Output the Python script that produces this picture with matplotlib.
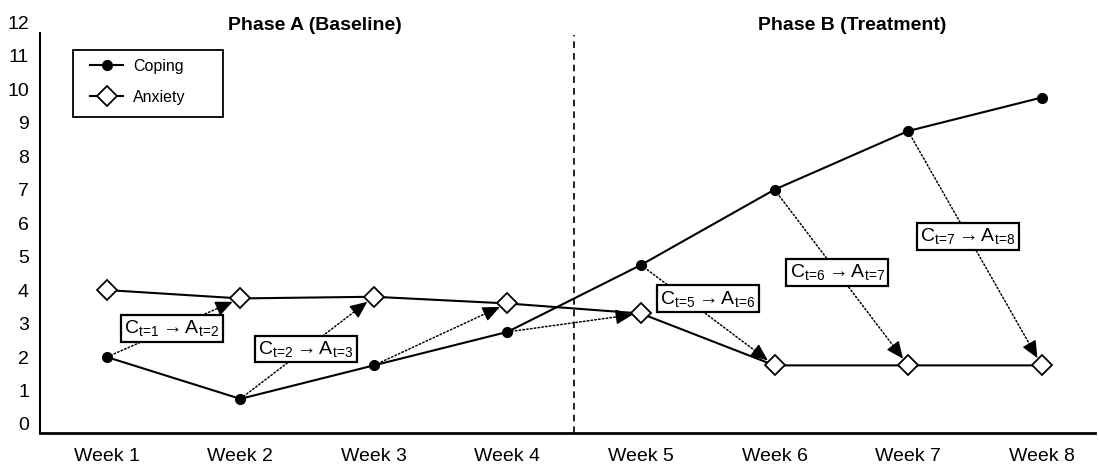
import matplotlib
matplotlib.use('Agg')
import matplotlib.pyplot as plt
from matplotlib.patches import Rectangle
import numpy as np

plt.rcParams['font.family'] = ['Liberation Sans', 'DejaVu Sans']
plt.rcParams['mathtext.fontset'] = 'custom'
plt.rcParams['mathtext.rm'] = 'Liberation Sans'
plt.rcParams['mathtext.it'] = 'Liberation Sans'
plt.rcParams['mathtext.bf'] = 'Liberation Sans:bold'

weeks = ['Week 1', 'Week 2', 'Week 3', 'Week 4', 'Week 5', 'Week 6', 'Week 7', 'Week 8']
coping = [2.0, 0.75, 1.75, 2.75, 4.75, 7.0, 8.75, 9.75]
anxiety = [4.0, 3.75, 3.8, 3.6, 3.3, 1.75, 1.75, 1.75]
# lagged paths C(t) -> A(t+1); which ones get a label and where along the arrow
labelled = [1, 2, 5, 6, 7]
label_pos = {1: 0.49, 2: 0.49, 5: 0.5, 6: 0.47, 7: 0.45}
label_shift = {1: 0, 2: 0, 5: 12, 6: 0, 7: 0}
phases = ['Phase A (Baseline)', 'Phase B (Treatment)']

x = np.arange(len(weeks))

fig = plt.figure(figsize=(10.99, 4.70), dpi=100)
ax = fig.add_axes([0.0364, 0.0787, 0.96, 0.874])
ax.set_xlim(-0.5, 7.4)
ax.set_ylim(-0.27, 12)

# arrows first so markers sit on top
for t in range(1, len(weeks)):
    x0, y0 = x[t - 1], coping[t - 1]
    x1, y1 = x[t], anxiety[t]
    # dotted shaft
    ax.annotate('', xy=(x1, y1), xytext=(x0, y0),
                arrowprops=dict(arrowstyle='-', linestyle=(0, (1, 1.5)), color='black',
                                lw=1.1, shrinkA=3, shrinkB=12), zorder=2)
    # solid head, direction taken in screen space
    p0 = ax.transData.transform((x0, y0))
    p1 = ax.transData.transform((x1, y1))
    u = (p1 - p0) / np.hypot(*(p1 - p0))
    ax.annotate('', xy=(x1, y1), xytext=(-u[0] * 18, -u[1] * 18), textcoords='offset points',
                arrowprops=dict(arrowstyle='-|>,head_length=0.5,head_width=0.22', color='black',
                                lw=1, mutation_scale=21, shrinkA=0, shrinkB=6), zorder=2)
    if t in labelled:
        f = label_pos[t]
        ax.annotate(r'$\mathrm{C}_{t\!=\!%d} \rightarrow \mathrm{A}_{t\!=\!%d}$' % (t, t + 1),
                    xy=(x0 + f * (x1 - x0), y0 + f * (y1 - y0)),
                    xytext=(0, label_shift[t]), textcoords='offset points',
                    ha='center', va='center', fontsize=14, zorder=5,
                    bbox=dict(boxstyle='square,pad=0.17', fc='white', ec='black', lw=1.6))

ax.plot(x, coping, '-o', color='black', lw=1.5, markersize=7, label='Coping', zorder=3)
ax.plot(x, anxiety, '-D', color='black', lw=1.5, markersize=10, markerfacecolor='white',
        markeredgewidth=1.3, label='Anxiety', zorder=3)

ax.axvline(3.5, ymin=0, ymax=0.97, color='black', linestyle=(0, (4, 3)), lw=1.2)

ax.text(1.555, 11.9, phases[0], ha='center', va='center', fontsize=14, fontweight='bold')
ax.text(5.58, 11.9, phases[1], ha='center', va='center', fontsize=14, fontweight='bold')

ax.set_xticks(x)
ax.set_xticklabels(weeks, fontsize=14)
ax.set_yticks(range(0, 13))
ax.tick_params(axis='both', length=0, labelsize=14)
ax.tick_params(axis='x', pad=11)
ax.tick_params(axis='y', pad=8)
for s in ['top', 'right']:
    ax.spines[s].set_visible(False)
ax.spines['left'].set_bounds(-0.27, 11.67)
ax.spines['left'].set_linewidth(1.5)
ax.spines['bottom'].set_linewidth(2)

leg = ax.legend(loc='upper left', bbox_to_anchor=(0.039, 0.932), fontsize=11.5, frameon=False,
                handlelength=2.1, labelspacing=1.0, borderpad=0.55, borderaxespad=0,
                handletextpad=0.6)
for line in leg.get_lines():
    line.set_linewidth(1.5)
ax.add_patch(Rectangle((0.0313, 0.769), 0.1422, 0.163, transform=ax.transAxes,
                       fill=False, ec='black', lw=1.3, zorder=4))

plt.savefig('out.png', dpi=100)
